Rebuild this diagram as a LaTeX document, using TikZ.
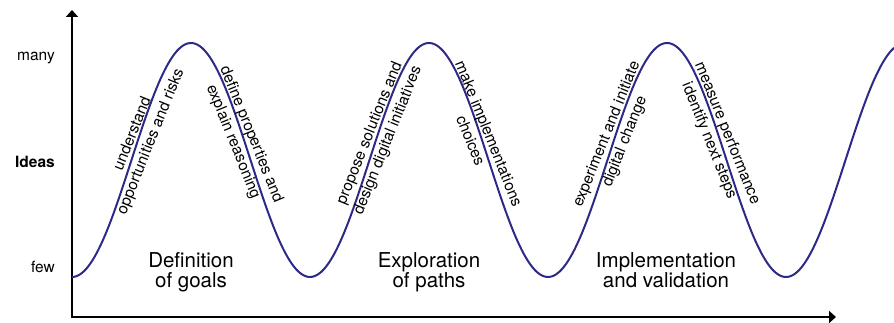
\documentclass[tikz,border=0pt]{standalone}
\usepackage{fontspec}
\setmainfont{TeX Gyre Heros}
\usetikzlibrary{arrows.meta}
\definecolor{wavec}{RGB}{45,42,135}
\begin{document}
\begin{tikzpicture}[x=1pt,y=-1pt,
  axis/.style={line width=2pt, {Triangle[length=7pt,width=12pt]}-{Triangle[length=7pt,width=12pt]}},
  wave/.style={draw=wavec, line width=2pt},
  ylab/.style={font=\fontsize{15.5}{18}\selectfont, anchor=base east, inner sep=0pt},
  slope/.style={font=\fontsize{15.5}{19.5}\selectfont, align=center, inner sep=0pt},
  up/.style={slope, rotate=68},
  down/.style={slope, rotate=-68},
  phase/.style={font=\fontsize{20.5}{19.5}\selectfont, align=center, anchor=base, inner sep=0pt}]
\useasboundingbox (0,0) rectangle (894,323);
% axes
\coordinate (ytop) at (72,10);
\coordinate (origin) at (72,317);
\coordinate (xend) at (836,317);
\draw[axis] (ytop) -- (origin) -- (xend);
% wave
\draw[wave] plot[domain=72:894, samples=400, smooth] (\x, {160+117*cos(1.512605*(\x-72))});
% axis labels
\node[ylab] (many) at (55,61) {many};
\node[ylab, font=\fontsize{15.5}{18}\selectfont\bfseries] (ideas) at (55,168) {Ideas};
\node[ylab] (few) at (55,272) {few};
% slope labels
\node[up] (s1) at (142,138) {understand\\opportunities and risks};
\node[down] (s2) at (242,138) {define properties and\\explain reasoning};
\node[up] (s3) at (379,137) {propose solutions and\\design digital initiatives};
\node[down] (s4) at (480,137) {make implementations\\choices};
\node[up] (s5) at (616,138) {experiment and initiate\\digital change};
\node[down] (s6) at (718,137) {measure performance\\identify next steps};
% phase labels (base anchor = last line)
\node[phase] (p1) at (191,287) {Definition\\of goals};
\node[phase] (p2) at (429,287) {Exploration\\of paths};
\node[phase] (p3) at (666,287) {Implementation\\and validation};
\end{tikzpicture}
\end{document}
